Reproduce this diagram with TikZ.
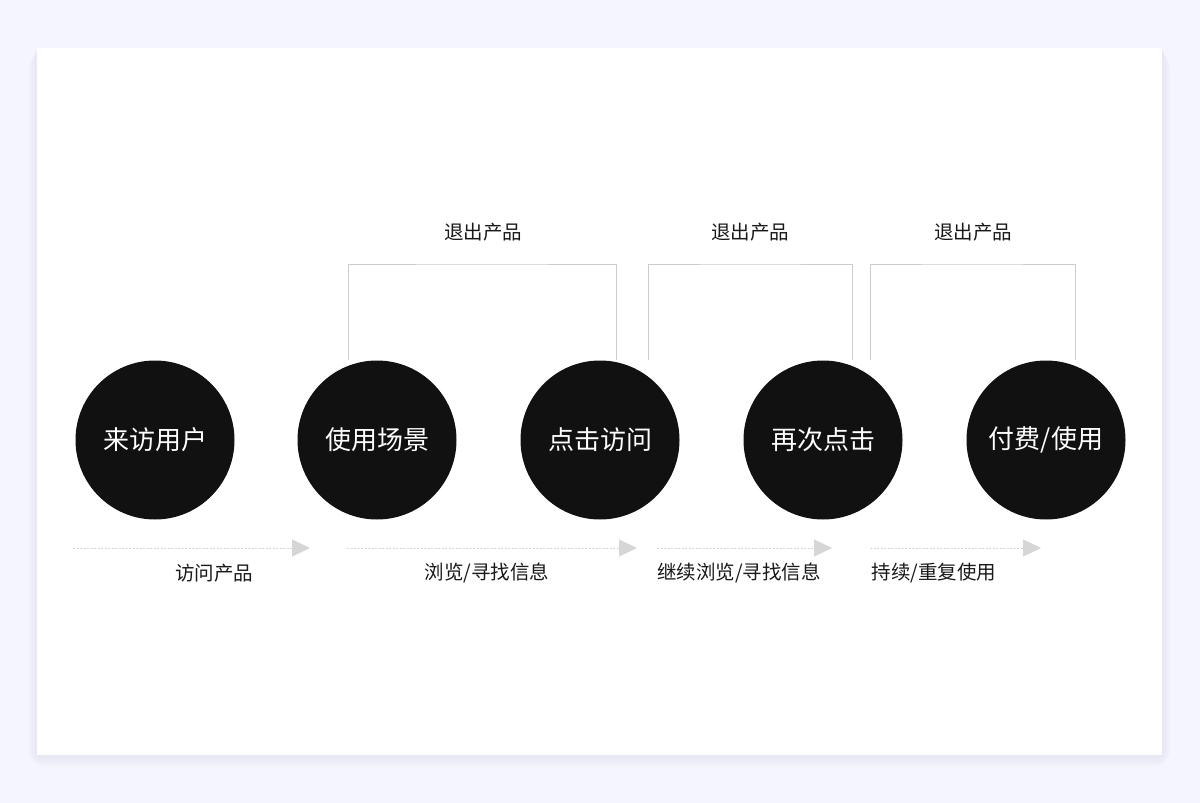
\documentclass[tikz,border=0pt]{standalone}
\usepackage{fontspec}
\setmainfont{Noto Sans CJK SC}
\usetikzlibrary{arrows.meta}
\definecolor{bgc}{HTML}{F5F5FD}
\definecolor{shadowc}{HTML}{E4E4F4}
\definecolor{circc}{HTML}{121112}
\definecolor{linec}{HTML}{CCCCCC}
\definecolor{arrowc}{HTML}{D6D6D6}
\tikzset{
  stage/.style={circle,fill=circc,minimum size=159pt,inner sep=0pt,text=white,font=\fontsize{26}{30}\selectfont},
  lbl/.style={text=black!90,font=\fontsize{19.5}{24}\selectfont,inner sep=0pt},
  exitline/.style={draw=linec,line width=1pt},
  flow/.style={draw=arrowc,line width=1pt,dash pattern=on 2pt off 1.5pt,-{Triangle[length=18pt,width=17pt,fill=arrowc]}},
}
\begin{document}
\begin{tikzpicture}[x=1pt,y=-1pt]
\useasboundingbox (0,0) rectangle (1200,803);
\fill[bgc] (0,0) rectangle (1200,803);
\foreach \d in {2,4,...,16}{
  \fill[shadowc,opacity=0.12,rounded corners=\d pt] (37-\d/2,48+\d/3) rectangle (1162+\d/2,755+\d/1.4);
}
\fill[white] (37,48) rectangle (1162,755);
% stages
\node[stage] (s1) at (155,440) {来访用户};
\node[stage] (s2) at (377,440) {使用场景};
\node[stage] (s3) at (600,440) {点击访问};
\node[stage] (s4) at (823,440) {再次点击};
\node[stage] (s5) at (1046,440) {付费/使用};
% exit brackets
\coordinate (b1l) at (348,360); \coordinate (b1r) at (616,360);
\coordinate (b2l) at (648,360); \coordinate (b2r) at (852,360);
\coordinate (b3l) at (870,360); \coordinate (b3r) at (1075,360);
\draw[exitline] (b1l) |- (482,264) -| (b1r);
\draw[exitline] (b2l) |- (750,264) -| (b2r);
\draw[exitline] (b3l) |- (972,264) -| (b3r);
\node[lbl] (e1) at (483,232) {退出产品};
\node[lbl] (e2) at (750,232) {退出产品};
\node[lbl] (e3) at (973,232) {退出产品};
% flow arrows
\coordinate (a1s) at (73,548); \coordinate (a1e) at (310,548);
\coordinate (a2s) at (347,548); \coordinate (a2e) at (637,548);
\coordinate (a3s) at (657,548); \coordinate (a3e) at (832,548);
\coordinate (a4s) at (870,548); \coordinate (a4e) at (1041,548);
\draw[flow] (a1s) -- (a1e);
\draw[flow] (a2s) -- (a2e);
\draw[flow] (a3s) -- (a3e);
\draw[flow] (a4s) -- (a4e);
\node[lbl] (f1) at (214,573) {访问产品};
\node[lbl] (f2) at (487,573) {浏览/寻找信息};
\node[lbl] (f3) at (739,573) {继续浏览/寻找信息};
\node[lbl] (f4) at (934,573) {持续/重复使用};
\end{tikzpicture}
\end{document}
